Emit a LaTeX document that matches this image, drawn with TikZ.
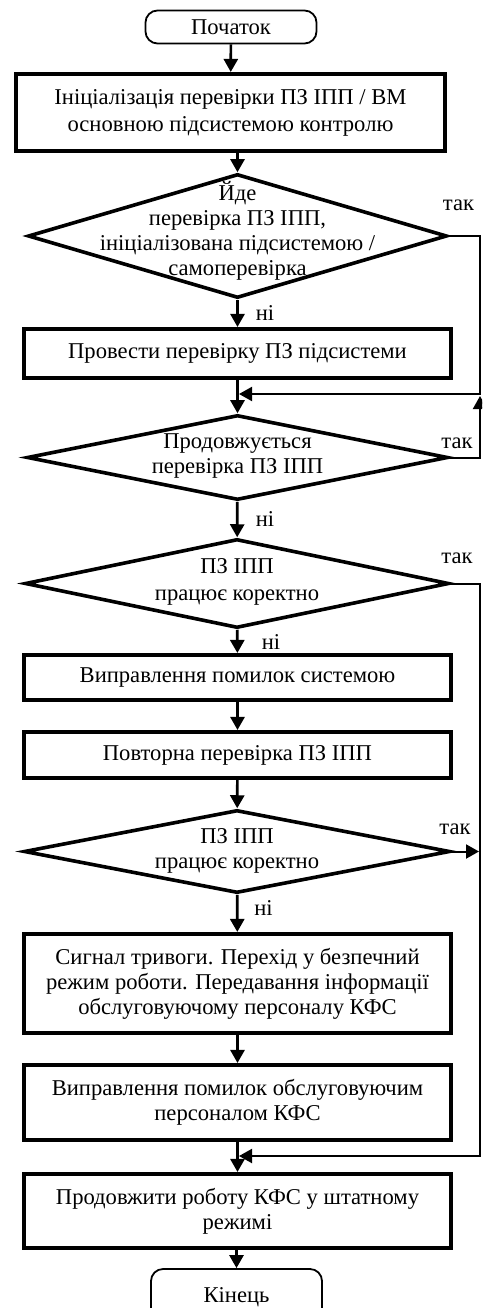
\documentclass[tikz,border=0pt]{standalone}
\usepackage{fontspec}
\setmainfont{Liberation Serif}
\usetikzlibrary{arrows.meta,shapes.geometric,calc}
\newcommand\myfs{\fontsize{22.6}{25}\selectfont}
\begin{document}
\begin{tikzpicture}[x=1pt,y=-1pt,
  every node/.style={font=\myfs},
  boxnode/.style={draw, line width=3.6pt, minimum width=427.5pt, align=center, inner sep=0pt},
  dianode/.style={draw, diamond, line width=3.6pt, inner sep=0pt},
  termnode/.style={draw, rounded corners=12pt, line width=1.8pt, minimum width=171pt, inner sep=0pt},
  txtnode/.style={align=center, inner sep=0pt},
  lbl/.style={inner sep=0pt},
  arr/.style={line width=2.7pt, -{Triangle[length=13pt,width=14pt]}},
  lnkarr/.style={line width=2pt, -{Triangle[length=13pt,width=14pt]}}
]
\useasboundingbox (0,0) rectangle (482,1308);
\clip (0,0) rectangle (482,1308);

\node[termnode, minimum height=33pt] (st) at (231,27) {Початок};
\node[boxnode, minimum width=429.5pt, minimum height=77.5pt] (b1) at (230.5,112.5)
  {Ініціалізація перевірки ПЗ ІПП / ВМ\\[2pt]основною підсистемою контролю};

\node[dianode, minimum width=419pt, minimum height=124pt] (d1) at (237.5,236) {};
\node[txtnode] (t1) at (237.5,231) {Йде\\перевірка ПЗ ІПП,\\ініціалізована підсистемою /\\самоперевірка};

\node[boxnode, minimum height=49.5pt] (b2) at (237.5,353.5) {Провести перевірку ПЗ підсистеми};

\node[dianode, minimum width=421pt, minimum height=85pt] (d2) at (237.5,457.5) {};
\node[txtnode] (t2) at (237.5,456.5) {Продовжується\\перевірка ПЗ ІПП};

\node[dianode, minimum width=424pt, minimum height=89pt] (d3) at (237,583.5) {};
\node[txtnode] (t3) at (237,581.5) {ПЗ ІПП\\[2pt]працює коректно};

\node[boxnode, minimum height=45.5pt] (b3) at (237.5,677.5) {Виправлення помилок системою};
\node[boxnode, minimum height=46.5pt] (b4) at (237.5,755) {Повторна перевірка ПЗ ІПП};

\node[dianode, minimum width=426pt, minimum height=83pt] (d4) at (237,851.5) {};
\node[txtnode] (t4) at (237,850.5) {ПЗ ІПП\\працює коректно};

\node[boxnode, minimum height=99.5pt] (b5) at (237.5,983.5)
  {Сигнал тривоги. Перехід у безпечний\\режим роботи. Передавання інформації\\обслуговуючому персоналу КФС};
\node[boxnode, minimum height=75.5pt] (b6) at (237.5,1102.5)
  {Виправлення помилок обслуговуючим\\персоналом КФС};
\node[boxnode, minimum height=74.5pt] (b7) at (237.5,1211)
  {Продовжити роботу КФС у штатному\\режимі};
\node[termnode, minimum height=68pt] (en) at (236.5,1303) {};
\node[lbl] (te) at (236.5,1297) {Кінець};

% labels
\node[lbl] (y1) at (458.5,205.5) {так};
\node[lbl] (y2) at (457,443) {так};
\node[lbl] (y3) at (457,558) {так};
\node[lbl] (y4) at (455,829) {так};
\node[lbl] (n1) at (265,313) {ні};
\node[lbl] (n2) at (265,519) {ні};
\node[lbl] (n3) at (271,642) {ні};
\node[lbl] (n4) at (263.5,908) {ні};

% helper coordinates
\coordinate (r) at (480,0);
\coordinate (j1) at (239,394);
\coordinate (j1r) at (480,394);
\coordinate (j2) at (239,1156);
\coordinate (j2r) at (480,1156);
\coordinate (up2) at (480,396);

% main flow
\draw[arr] (st) -- (b1);
\draw[arr] (b1.south -| d1.north) -- (d1.north);
\draw[arr] (d1) -- (b2);
\draw[arr] (b2) -- (d2);
\draw[arr] (d2) -- (d3);
\draw[arr] (d3) -- (b3);
\draw[arr] (b3) -- (b4);
\draw[arr] (b4) -- (d4);
\draw[arr] (d4) -- (b5);
\draw[arr] (b5) -- (b6);
\draw[arr] (b6) -- (b7);
\draw[arr] (b7.south -| en.north) -- (en.north);

% yes branches
\draw[lnkarr] (d1.east) -- (d1.east -| r) -- (j1r) -- (j1);
\draw[lnkarr] (d2.east) -- (d2.east -| r) -- (up2);
\draw[lnkarr] (d3.east) -- (d3.east -| r) -- (j2r) -- (j2);
\draw[lnkarr] (d4.east) -- ($(d4.east -| r)+(-1,0)$);
\end{tikzpicture}
\end{document}
